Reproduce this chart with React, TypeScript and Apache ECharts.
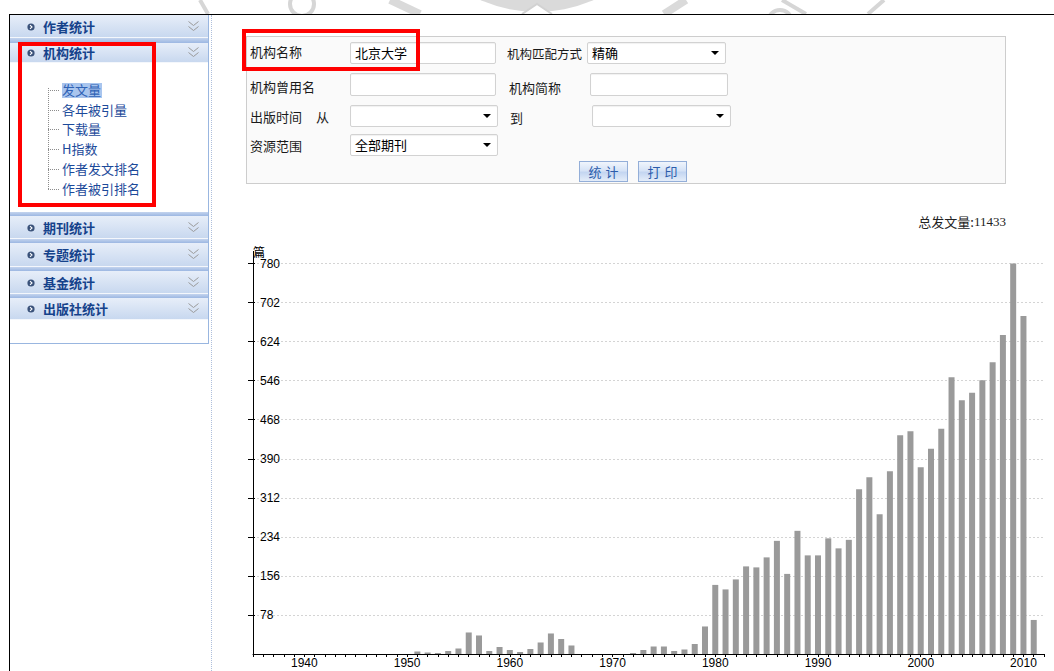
import React, { useEffect, useRef } from 'react';
import * as echarts from 'echarts';

// ---- data ----
const years = [
  1951, 1952, 1953, 1954, 1955, 1956, 1957, 1958, 1959, 1960,
  1961, 1962, 1963, 1964, 1965, 1966, 1967, 1968, 1969, 1970,
  1971, 1972, 1973, 1974, 1975, 1976, 1977, 1978, 1979, 1980,
  1981, 1982, 1983, 1984, 1985, 1986, 1987, 1988, 1989, 1990,
  1991, 1992, 1993, 1994, 1995, 1996, 1997, 1998, 1999, 2000,
  2001, 2002, 2003, 2004, 2005, 2006, 2007, 2008, 2009, 2010,
  2011,
];
const counts = [
  5, 3, 2, 6, 11, 43, 37, 6, 14, 8,
  4, 10, 23, 41, 30, 17, 0, 0, 0, 0,
  0, 2, 8, 15, 15, 6, 9, 20, 55, 138,
  129, 149, 175, 173, 193, 226, 160, 246, 197, 197,
  231, 211, 228, 329, 353, 279, 365, 437, 445, 373,
  410, 450, 553, 507, 522, 547, 583, 637, 780, 675,
  68,
];
const yMax = 780;
const yStep = 78;
const xMin = 1935;
const xMax = 2012;
const unitLabel = '篇';
const totalLabel = '总发文量:';
const totalValue = '11433';

const navGroups = ['作者统计', '机构统计', '期刊统计', '专题统计', '基金统计', '出版社统计'];
const navItems = ['发文量', '各年被引量', '下载量', 'H指数', '作者发文排名', '作者被引排名'];

const CJK = '"Noto Sans CJK SC", "Noto Sans", sans-serif';
const NUM = '"Liberation Sans", Arial, sans-serif';

function buildOption(): any {
  return {
    animation: false,
    grid: { left: 253, right: 10, top: 263.5, bottom: 17, containLabel: false },
    xAxis: {
      type: 'value',
      min: xMin,
      max: xMax,
      interval: 1,
      axisLine: { show: true, onZero: false, lineStyle: { color: '#000', width: 1 } },
      axisTick: { show: true, length: 3, lineStyle: { color: '#000' } },
      axisLabel: {
        margin: 3,
        color: '#000',
        fontSize: 12,
        fontFamily: NUM,
        formatter: (v: number) => (v % 10 === 0 ? String(v) : ''),
      },
      splitLine: { show: false },
    },
    yAxis: [
      {
        type: 'value',
        min: 0,
        max: yMax,
        interval: yStep,
        name: unitLabel,
        nameLocation: 'end',
        nameGap: 4,
        nameTextStyle: { align: 'left', fontSize: 12, color: '#000', fontFamily: CJK },
        axisLine: { show: true, lineStyle: { color: '#000', width: 1 } },
        axisTick: { show: true, length: 5, lineStyle: { color: '#000' } },
        axisLabel: {
          inside: true,
          margin: 7,
          color: '#000',
          fontSize: 12,
          fontFamily: NUM,
          padding: [3, 0, 0, 0],
          showMinLabel: false,
        },
        splitLine: { show: true, lineStyle: { color: '#d4d4d4', type: [2, 2], width: 1 } },
      },
      {
        type: 'value',
        min: 0,
        max: yMax,
        interval: yStep,
        position: 'left',
        axisLine: { show: false },
        axisTick: { show: true, inside: true, length: 2, lineStyle: { color: '#000' } },
        axisLabel: { show: false },
        splitLine: { show: false },
      },
    ],
    series: [
      {
        type: 'bar',
        barWidth: 6,
        itemStyle: { color: '#9a9a9a' },
        data: years.map((y, i) => [y, counts[i]]),
      },
    ],
    graphic: [
      {
        type: 'line',
        shape: { x1: 253.5, y1: 251, x2: 253.5, y2: 264 },
        style: { stroke: '#000', lineWidth: 1 },
        silent: true,
      },
      {
        type: 'text',
        x: 1006,
        y: 221.5,
        style: {
          text: '{a|' + totalLabel + '}{b|' + totalValue + '}',
          align: 'right',
          verticalAlign: 'middle',
          rich: {
            a: { fontSize: 13, fontFamily: CJK, fill: '#222' },
            b: { fontSize: 13, fontFamily: '"Liberation Serif", serif', fill: '#222' },
          },
        },
      },
    ],
  };
}

const abs = (l: number, t: number, w: number, h: number): React.CSSProperties => ({
  position: 'absolute', left: l, top: t, width: w, height: h, boxSizing: 'border-box',
});

function Label({ x, y, text, size = 13 }: { x: number; y: number; text: string; size?: number }) {
  return (
    <div style={{ position: 'absolute', left: x, top: y - 10, height: 20, lineHeight: '20px', fontSize: size, color: '#1a1a1a', whiteSpace: 'nowrap' }}>
      {text}
    </div>
  );
}

function Field({ x, y, w, h, text = '', select = false }: { x: number; y: number; w: number; h: number; text?: string; select?: boolean }) {
  return (
    <div style={{ ...abs(x, y, w, h), border: '1px solid #d2d2d2', borderRadius: 2, background: '#fff', boxShadow: 'inset 0 1px 1px rgba(0,0,0,0.06)' }}>
      <div style={{ position: 'absolute', left: 4, top: 0, lineHeight: (h - 2) + 'px', fontSize: 13, color: '#000' }}>{text}</div>
      {select && (
        <div style={{ position: 'absolute', right: 6, top: (h - 2) / 2 - 2, width: 0, height: 0, borderLeft: '4px solid transparent', borderRight: '4px solid transparent', borderTop: '4px solid #000' }} />
      )}
    </div>
  );
}

function Button({ x, text }: { x: number; text: string }) {
  return (
    <div style={{ ...abs(x, 161, 49, 21), border: '1px solid #93aed8', background: 'linear-gradient(#f0f5fc 0%, #d6e3f6 45%, #c4d6f1 55%, #e4edf9 100%)', textAlign: 'center', lineHeight: '19px', fontSize: 13, color: '#2b5cab', letterSpacing: 4, paddingLeft: 4 }}>
      {text}
    </div>
  );
}

function Chevron({ x, y }: { x: number; y: number }) {
  return (
    <svg style={{ position: 'absolute', left: x, top: y }} width={11} height={12}>
      <polyline points="0.5,0.5 5.5,4.5 10.5,0.5" fill="none" stroke="#9a9a9a" strokeWidth={1} />
      <polyline points="0.5,5.5 5.5,9.5 10.5,5.5" fill="none" stroke="#9a9a9a" strokeWidth={1} />
    </svg>
  );
}

function NavIcon({ x, y }: { x: number; y: number }) {
  return (
    <svg style={{ position: 'absolute', left: x, top: y }} width={8} height={8}>
      <circle cx={4} cy={4} r={3.6} fill="#3a527a" />
      <polyline points="3,2.2 5,4 3,5.8" fill="none" stroke="#fff" strokeWidth={1.1} />
    </svg>
  );
}

function Sidebar() {
  const headerTops = [15, 43, 216, 243, 271, 298];
  const headerHeights = [23, 20, 23, 24, 23, 22];
  const bandTops = [38, 212, 239, 267, 294];
  const itemTops = [90, 109.5, 129, 149, 169, 188.5];
  return (
    <>
      <div style={{ ...abs(10, 15, 199, 329), background: '#fff', borderRight: '1px solid #99b6e0', borderBottom: '1px solid #99b6e0' }} />
      {bandTops.map((t, i) => (
        <div key={'b' + i} style={{ ...abs(10, t, 198, headerTops[i + 1] - t), background: 'linear-gradient(#c4d4ee, #9cb7e2)' }} />
      ))}
      {navGroups.map((g, i) => {
        const t = headerTops[i];
        const h = headerHeights[i];
        return (
          <div key={g} style={{ ...abs(10, t, 198, h), background: 'linear-gradient(#e7eef9, #c8d8ef)', borderBottom: '1px solid #f4f7fc' }}>
            <NavIcon x={17} y={h / 2 - 4} />
            <div style={{ position: 'absolute', left: 33, top: 0, lineHeight: h + 'px', fontSize: 13, fontWeight: 'bold', color: '#15428b', whiteSpace: 'nowrap' }}>{g}</div>
            <Chevron x={178} y={h / 2 - 6} />
          </div>
        );
      })}
      {/* tree lines */}
      <div style={{ ...abs(48, 88, 1, 101), borderLeft: '1px dotted #8c8c8c' }} />
      {itemTops.map((y, i) => (
        <div key={'s' + i} style={{ ...abs(48, Math.round(y), 11, 1), borderTop: '1px dotted #8c8c8c' }} />
      ))}
      <div style={{ ...abs(62, 83, 40, 15), background: '#a9c5ee' }} />
      {navItems.map((t, i) => (
        <div key={t} style={{ position: 'absolute', left: 62, top: itemTops[i] - 10, height: 20, lineHeight: '20px', fontSize: 13, color: i === 0 ? '#2f62b5' : '#1c4a9a', whiteSpace: 'nowrap' }}>{t}</div>
      ))}
    </>
  );
}

function FormPanel() {
  return (
    <>
      <div style={{ ...abs(246, 36, 760, 148), border: '1px solid #cdcdcd', background: '#fafafa' }} />
      <Label x={250} y={52} text="机构名称" />
      <Field x={350} y={42} w={146} h={22} text="北京大学" />
      <Label x={250} y={87} text="机构曾用名" />
      <Field x={350} y={73} w={146} h={23} />
      <Label x={250} y={117} text="出版时间" />
      <Label x={316} y={117} text="从" />
      <Field x={350} y={105} w={148} h={22} select />
      <Label x={250} y={146} text="资源范围" />
      <Field x={350} y={134} w={148} h={22} text="全部期刊" select />
      <Label x={507} y={54} text="机构匹配方式" size={12.5} />
      <Field x={587} y={42} w={139} h={22} text="精确" select />
      <Label x={509} y={88} text="机构简称" />
      <Field x={590} y={73} w={138} h={23} />
      <Label x={510} y={118} text="到" />
      <Field x={592} y={105} w={139} h={22} select />
      <Button x={579} text="统计" />
      <Button x={638} text="打印" />
    </>
  );
}

function Watermark() {
  return (
    <svg style={{ position: 'absolute', left: 0, top: 0 }} width={1054} height={14}>
      <line x1={200} y1={0} x2={208} y2={14} stroke="#d6d6d6" strokeWidth={4} />
      <circle cx={302} cy={4} r={12} fill="none" stroke="#d6d6d6" strokeWidth={4} />
      <circle cx={537} cy={-128} r={140} fill="#dadada" />
      <line x1={390} y1={0} x2={420} y2={14} stroke="#dadada" strokeWidth={8} />
      <line x1={686} y1={0} x2={664} y2={14} stroke="#dadada" strokeWidth={8} />
      <polyline points="522,14 537,4 552,14" fill="#fff" stroke="#d2d2d2" strokeWidth={2} />
      <circle cx={780} cy={22} r={12} fill="none" stroke="#d6d6d6" strokeWidth={4} />
      <line x1={782} y1={0} x2={806} y2={14} stroke="#d6d6d6" strokeWidth={4} />
      <line x1={884} y1={0} x2={868} y2={14} stroke="#d6d6d6" strokeWidth={4} />
    </svg>
  );
}

export default function App() {
  const ref = useRef<HTMLDivElement>(null);
  useEffect(() => {
    if (!ref.current) return;
    const chart = echarts.init(ref.current, null, { renderer: 'svg' });
    chart.setOption(buildOption());
    return () => chart.dispose();
  }, []);
  return (
    <div style={{ position: 'fixed', left: 0, top: 0, width: 1054, height: 671, background: '#fff', overflow: 'hidden', fontFamily: CJK }}>
      <div ref={ref} style={{ position: 'absolute', left: 0, top: 0, width: 1054, height: 671 }} />
      <Watermark />
      <div style={{ ...abs(9, 14, 1045, 1), background: '#000' }} />
      <div style={{ ...abs(9, 14, 1, 657), background: '#000' }} />
      <div style={{ ...abs(211, 15, 1, 656), borderLeft: '1px dotted #aebfdc' }} />
      <Sidebar />
      <FormPanel />
      <div style={{ ...abs(18, 42, 138, 165), border: '4px solid #ff0000' }} />
      <div style={{ ...abs(242, 29, 178, 42), border: '4px solid #ff0000' }} />
    </div>
  );
}
